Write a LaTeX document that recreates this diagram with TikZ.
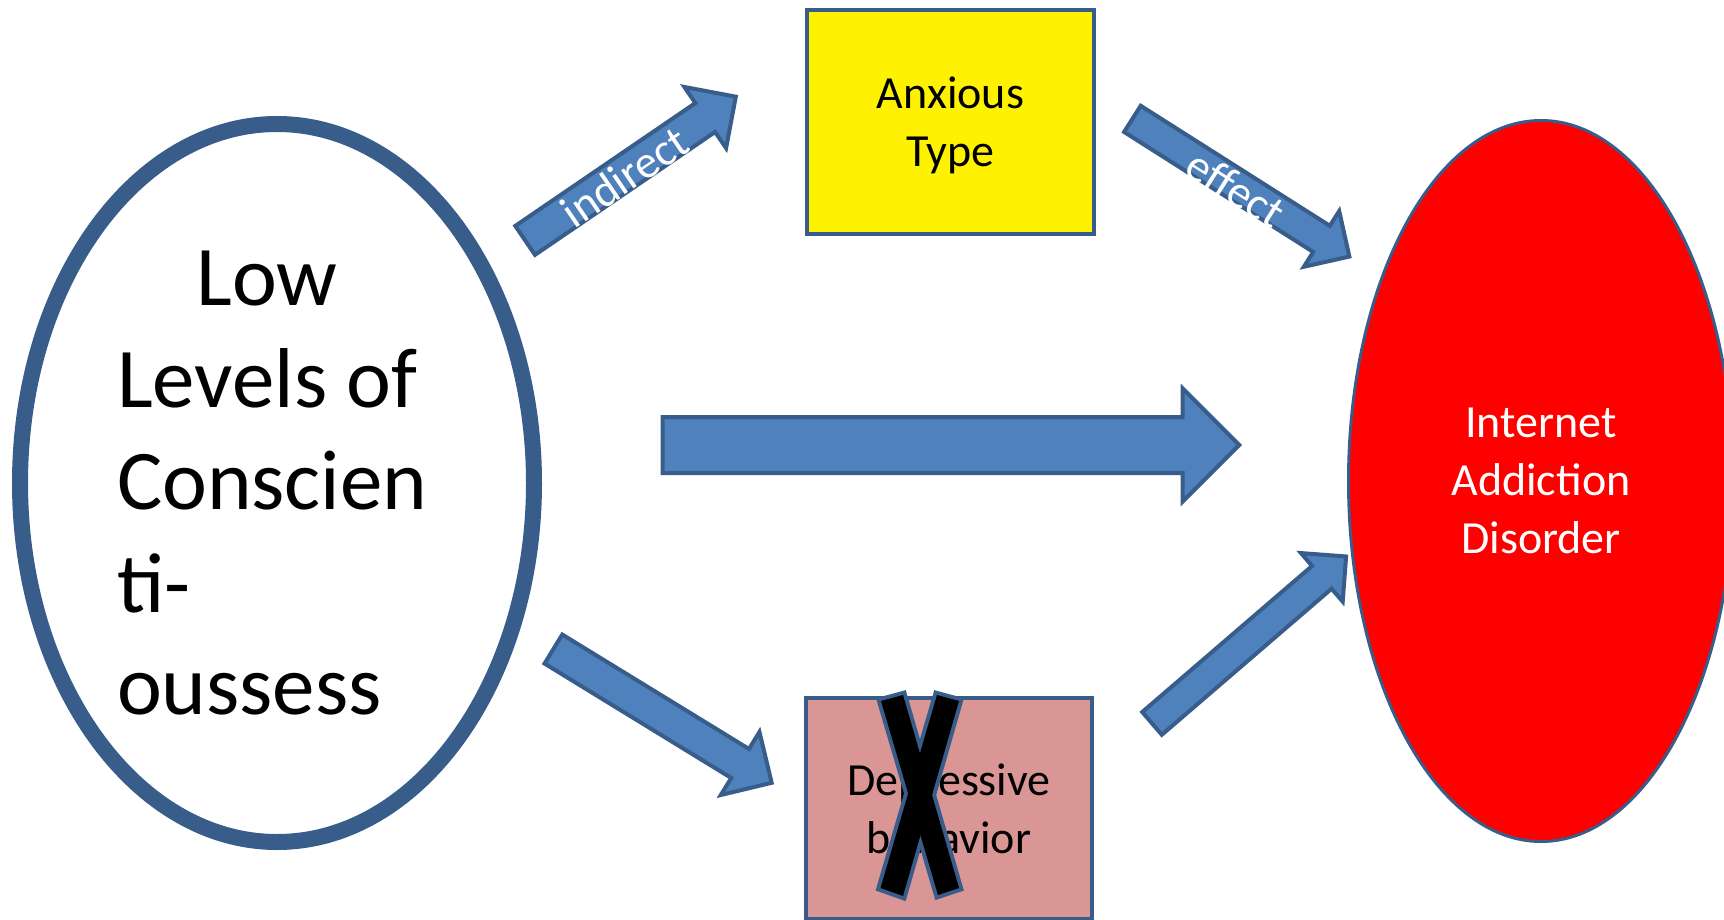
\documentclass[tikz,border=0pt]{standalone}
\usepackage{fontspec}
\setmainfont{Carlito}
\usepackage{xcolor}
\usetikzlibrary{positioning,shapes.geometric,shapes.arrows,calc}

\definecolor{arrowblue}{HTML}{4F81BD}
\definecolor{edgeblue}{HTML}{385D8A}
\definecolor{pinkbox}{HTML}{D99694}

\begin{document}
\begin{tikzpicture}[
	  x=0.5pt, y=-0.5pt,
	  %style for block arrows
	  barrw/.style={single arrow, anchor=tail, fill=arrowblue, draw=edgeblue,
	    line width=2pt, inner xsep=0pt, minimum width=0pt,
	    single arrow tip angle=90},
	  % style for the texts on arrows
	  alab/.style={text=white, inner sep=0pt, font=\fontsize{23}{29}\selectfont},
	  % style for boxes
	  bx/.style={rectangle, draw=edgeblue, line width=2pt, inner sep=0pt,
	    minimum width=143.5pt, align=center, font=\fontsize{23}{29}\selectfont},
	  % style for ellipses
	  el/.style={ellipse, draw=edgeblue, inner sep=0pt}]

      \useasboundingbox (0,0) rectangle (1724,920);
      \clip (0,0) rectangle (1724,920);
      \fill[white] (0,0) rectangle (1724,920);

      \node[el, line width=8pt, minimum width=257pt, minimum height=359pt,
        text width=160pt, align=flush left, font=\fontsize{42.5}{51.2}\selectfont]
        (lowcon) at (277,483) {\makebox[150pt]{Low}\\Levels of\\Conscien\\ti-\\oussess};
      \node[bx, fill=yellow, minimum height=112pt, text depth=0pt] (anxious) at (950.5,122) {Anxious\\Type};
      \node[bx, fill=pinkbox, minimum width=143pt, minimum height=110.5pt]
        (depress) at (949,808.5) {Depressive\\behavior};
      \node[el, fill=red, line width=1.5pt, minimum width=192.5pt, minimum height=360.5pt,
        text=white, align=center, font=\fontsize{23}{29}\selectfont]
        (iad) at (1541,481) {Internet\\Addiction\\Disorder};

      % cross over the depressive box
      \draw[edgeblue, line width=4pt] (881,701) -- (903,695) -- (959,888) -- (938,895) -- cycle;
      \draw[edgeblue, line width=4pt] (937,695) -- (959,701) -- (903,896) -- (880.5,888) -- cycle;
      \fill[black] (881,701) -- (903,695) -- (959,888) -- (938,895) -- cycle;
      \fill[black] (937,695) -- (959,701) -- (903,896) -- (880.5,888) -- cycle;

      % arrows
      \coordinate (indtail) at (523.5,241.5);
      \node[barrw, rotate=34.3, minimum height=127.5pt, inner ysep=7.75pt,
        single arrow head extend=9.75pt] (indarrow) at (indtail) {};
      \node[alab, rotate=34.3] at ($(indtail)!0.47!(indarrow.tip)+(0,4)$) {indirect};

      \coordinate (efftail) at (1130.7,117.8);
      \node[barrw, rotate=-32.4, minimum height=128.5pt, inner ysep=6.75pt,
        single arrow head extend=8.75pt] (effarrow) at (efftail) {};
      \node[alab, rotate=-32.4] at ($(efftail)!0.475!(effarrow.tip)+(0,4)$) {effect};

      \coordinate (maintail) at (660.6,445);
      \node[barrw, minimum height=288.3pt, inner ysep=13pt,
        single arrow head extend=14.25pt] (mainarrow) at (maintail) {};

      \coordinate (deptail) at (551.7,648);
      \node[barrw, rotate=-31.5, minimum height=128pt, inner ysep=7.5pt,
        single arrow head extend=10pt] (deparrow) at (deptail) {};

      \coordinate (outtail) at (1150.5,724.7);
      \node[barrw, rotate=40.7, minimum height=128pt, inner ysep=6.5pt,
        single arrow head extend=8.5pt] (outarrow) at (outtail) {};

\end{tikzpicture}
\end{document}
